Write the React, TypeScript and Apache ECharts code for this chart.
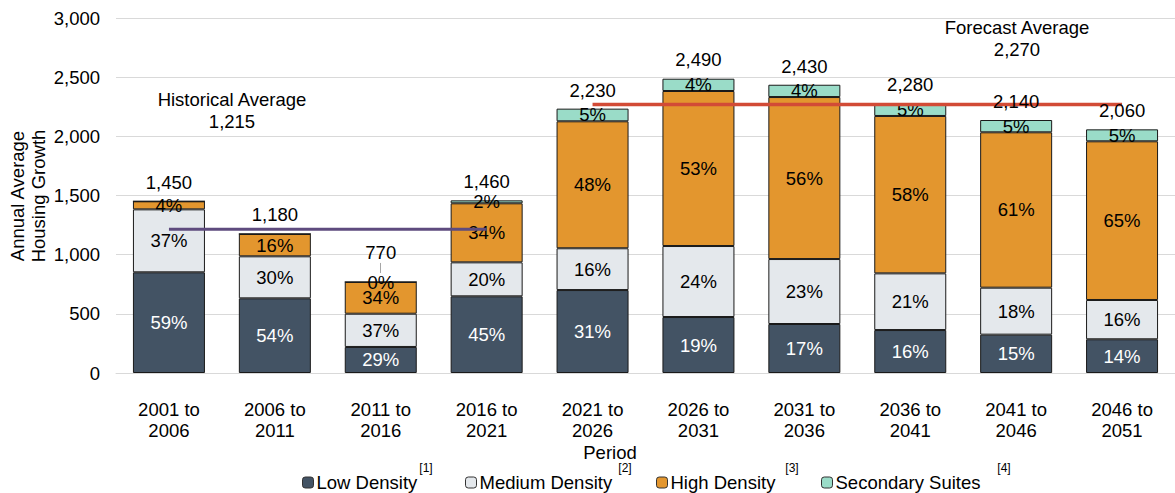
import React, { useEffect, useRef } from "react";
import * as echarts from "echarts";

const categories = [
  "2001 to\n2006",
  "2006 to\n2011",
  "2011 to\n2016",
  "2016 to\n2021",
  "2021 to\n2026",
  "2026 to\n2031",
  "2031 to\n2036",
  "2036 to\n2041",
  "2041 to\n2046",
  "2046 to\n2051",
];

const lowDensity = [851, 631, 220, 648, 701, 473, 414, 363, 324, 285];
const mediumDensity = [532, 355, 281, 287, 353, 600, 549, 479, 397, 332];
const highDensity = [68, 189, 268, 499, 1073, 1310, 1369, 1330, 1313, 1341];
const secondarySuites = [0, 0, 0, 25, 107, 104, 104, 108, 104, 101];

const lowPct = ["59%", "54%", "29%", "45%", "31%", "19%", "17%", "16%", "15%", "14%"];
const mediumPct = ["37%", "30%", "37%", "20%", "16%", "24%", "23%", "21%", "18%", "16%"];
const highPct = ["4%", "16%", "34%", "34%", "48%", "53%", "56%", "58%", "61%", "65%"];
const secondaryPct = ["", "", "0%", "2%", "5%", "4%", "4%", "5%", "5%", "5%"];

const totals = [1450, 1180, 770, 1460, 2230, 2490, 2430, 2280, 2140, 2060];

const historicalAverage = [1215, 1215, 1215, 1215, null, null, null, null, null, null];
const forecastAverage = [null, null, null, null, 2270, 2270, 2270, 2270, 2270, 2270];

const yTicks = { min: 0, max: 3000, interval: 500 };

const FONT = "'Liberation Sans', Arial, sans-serif";
const FS = 18.5;

const fmt = (v: number) => v.toLocaleString("en-US");

export default function App() {
  const ref = useRef<HTMLDivElement>(null);

  useEffect(() => {
    if (!ref.current) return;
    const chart = echarts.init(ref.current, null, { renderer: "svg" });

    const barBase = (name: string, data: number[], color: string, pct: string[], labelColor: string) => ({
      name,
      type: "bar",
      stack: "total",
      barWidth: 72,
      data: data.map((v, i) => ({
        value: v,
        label: { show: pct[i] !== "" },
      })),
      itemStyle: { color, borderColor: "#1a1a1a", borderWidth: 1 },
      label: {
        show: true,
        position: "inside",
        color: labelColor,
        fontSize: FS,
        fontFamily: FONT,
        formatter: (p: any) => pct[p.dataIndex],
      },
      z: 2,
    });

    const legendBase = (name: string, left: number) => ({
      data: [name],
      left,
      top: 473,
      itemWidth: 11,
      itemHeight: 11,
      itemGap: 0,
      padding: 0,
      textStyle: { fontSize: FS, color: "#000", fontFamily: FONT, padding: [0, 0, 0, -2] },
      itemStyle: { borderColor: "#333", borderWidth: 1 },
    });

    const option: any = {
      animation: false,
      textStyle: { fontFamily: FONT },
      grid: { left: 116, top: 18, width: 1070, height: 355, containLabel: false },
      legend: [
        legendBase("Low Density", 302),
        legendBase("Medium Density", 465),
        legendBase("High Density", 656),
        legendBase("Secondary Suites", 821),
      ],
      xAxis: {
        type: "category",
        data: categories,
        axisLine: { show: true, lineStyle: { color: "#D9D9D9" } },
        axisTick: { show: false },
        axisLabel: {
          fontSize: FS,
          lineHeight: 21,
          color: "#000",
          margin: 26,
          fontFamily: FONT,
          interval: 0,
        },
      },
      yAxis: {
        type: "value",
        min: yTicks.min,
        max: yTicks.max,
        interval: yTicks.interval,
        axisLine: { show: false },
        axisTick: { show: false },
        splitLine: { lineStyle: { color: "#D9D9D9", width: 1 } },
        axisLabel: {
          fontSize: FS,
          color: "#000",
          margin: 16,
          fontFamily: FONT,
          formatter: (v: number) => fmt(v),
        },
      },
      series: [
        barBase("Low Density", lowDensity, "#435364", lowPct, "#ffffff"),
        barBase("Medium Density", mediumDensity, "#E4E8EC", mediumPct, "#000000"),
        barBase("High Density", highDensity, "#E3962E", highPct, "#000000"),
        barBase("Secondary Suites", secondarySuites, "#9ADCC8", secondaryPct, "#000000"),
        {
          name: "Historical Average",
          type: "line",
          data: historicalAverage,
          symbol: "none",
          lineStyle: { color: "#5E4B7E", width: 3 },
          z: 3,
          silent: true,
        },
        {
          name: "Forecast Average",
          type: "line",
          data: forecastAverage,
          symbol: "none",
          lineStyle: { color: "#D24B36", width: 3.5 },
          z: 3,
          silent: true,
        },
        {
          name: "Total",
          type: "scatter",
          data: totals.map((v, i) => ({
            value: v,
            label: { distance: i === 2 ? 20 : 9 },
          })),
          symbolSize: 0,
          itemStyle: { opacity: 1, color: "#000" },
          z: 4,
          label: {
            show: true,
            position: "top",
            fontSize: FS,
            color: "#000",
            opacity: 1,
            fontFamily: FONT,
            formatter: (p: any) => fmt(p.value),
          },
          markLine: {
            silent: true,
            symbol: "none",
            label: { show: false },
            lineStyle: { color: "#A6A6A6", width: 1, type: "solid", opacity: 1 },
            data: [
              [
                { coord: [categories[2], 845] },
                { coord: [categories[2], 930] },
              ],
            ],
          },
        },
      ],
      graphic: [
        {
          type: "text",
          x: 232,
          y: 110,
          style: {
            text: "Historical Average\n1,215",
            fontSize: FS,
            lineHeight: 22,
            fill: "#000",
            fontFamily: FONT,
            align: "center",
            verticalAlign: "middle",
          },
        },
        {
          type: "text",
          x: 1017,
          y: 38,
          style: {
            text: "Forecast Average\n2,270",
            fontSize: FS,
            lineHeight: 22,
            fill: "#000",
            fontFamily: FONT,
            align: "center",
            verticalAlign: "middle",
          },
        },
        {
          type: "text",
          x: 610,
          y: 452,
          style: {
            text: "Period",
            fontSize: FS,
            fill: "#000",
            fontFamily: FONT,
            align: "center",
            verticalAlign: "middle",
          },
        },
        {
          type: "text",
          x: 28,
          y: 196,
          rotation: Math.PI / 2,
          style: {
            text: "Annual Average\nHousing Growth",
            fontSize: FS,
            lineHeight: 21,
            fill: "#000",
            fontFamily: FONT,
            align: "center",
            verticalAlign: "middle",
          },
        },
        ...[
          ["[1]", 426],
          ["[2]", 625],
          ["[3]", 792],
          ["[4]", 1004],
        ].map(([t, x]) => ({
          type: "text",
          x: x as number,
          y: 468,
          style: {
            text: t as string,
            fontSize: 12,
            fill: "#000",
            fontFamily: FONT,
            align: "center",
            verticalAlign: "middle",
          },
        })),
      ],
    };

    chart.setOption(option);
    return () => chart.dispose();
  }, []);

  return (
    <div
      ref={ref}
      style={{ position: "fixed", left: 0, top: 0, width: 1175, height: 493, background: "#fff" }}
    />
  );
}
